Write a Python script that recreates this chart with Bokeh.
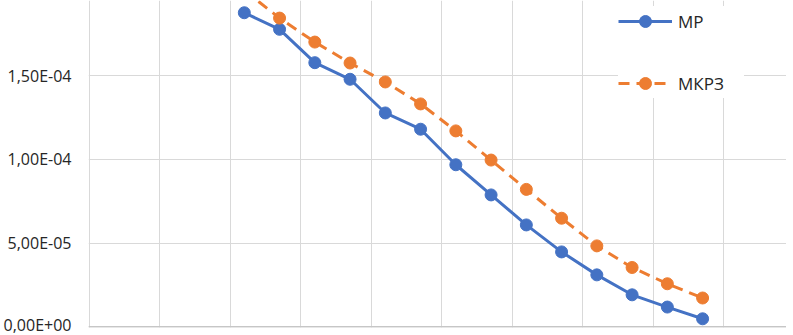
from bokeh.plotting import figure
from bokeh.models import (ColumnDataSource, FixedTicker, CustomJSTickFormatter,
                          Range1d, Legend, LegendItem, Span)
from bokeh.embed import file_html
from bokeh.resources import INLINE

# ---- data ----
x_vals = [2.2, 2.7, 3.2, 3.7, 4.2, 4.7, 5.2, 5.7, 6.2, 6.7, 7.2, 7.7, 8.2, 8.7]
mr = [1.875e-4, 1.776e-4, 1.577e-4, 1.478e-4, 1.277e-4, 1.180e-4, 9.68e-5,
      7.88e-5, 6.09e-5, 4.48e-5, 3.11e-5, 1.92e-5, 1.19e-5, 4.9e-6]
mkr3 = [2.008e-4, 1.843e-4, 1.700e-4, 1.575e-4, 1.462e-4, 1.331e-4, 1.170e-4,
        9.96e-5, 8.21e-5, 6.49e-5, 4.84e-5, 3.55e-5, 2.58e-5, 1.73e-5]
series_names = ["МР", "МКРЗ"]
y_ticks = [0, 5e-5, 1e-4, 1.5e-4, 2e-4]
x_grid = [0, 1, 2, 3, 4, 5, 6, 7, 8, 9, 10]

BLUE = "#4472C4"
ORANGE = "#ED7D31"
FONT = "Open Sans"

src = ColumnDataSource(dict(x=x_vals, mr=mr, mkr3=mkr3))

p = figure(frame_width=698, frame_height=327, output_backend="svg",
           toolbar_location=None,
           x_range=Range1d(-0.01, 9.89), y_range=Range1d(-0.3e-6, 1.948e-4),
           min_border_left=79, min_border_right=0, min_border_top=0,
           min_border_bottom=8)
p.outline_line_color = None
p.background_fill_color = "white"
p.border_fill_color = "white"

# grid
p.xgrid.ticker = FixedTicker(ticks=x_grid)
p.xgrid.grid_line_color = "#d9d9d9"
p.xgrid.grid_line_width = 1
p.ygrid.ticker = FixedTicker(ticks=y_ticks)
p.ygrid.grid_line_color = "#d9d9d9"
p.ygrid.grid_line_width = 1

# axes
p.xaxis.visible = False
yax = p.yaxis[0]
yax.ticker = FixedTicker(ticks=y_ticks)
yax.formatter = CustomJSTickFormatter(code="""
    const s = tick.toExponential(2);
    const parts = s.split('e');
    const sign = parts[1][0];
    const d = parts[1].slice(1).padStart(2, '0');
    return parts[0].replace('.', ',') + 'E' + sign + d;
""")
yax.axis_line_color = None
yax.major_tick_line_color = None
yax.minor_tick_line_color = None
yax.major_label_standoff = 11
yax.major_label_text_font = FONT
yax.major_label_text_font_size = "16px"
yax.major_label_text_color = "#262626"

# horizontal axis line at 0
p.add_layout(Span(location=0, dimension="width", line_color="#bfbfbf", line_width=1.5))

# series
l1 = p.line("x", "mr", source=src, line_color=BLUE, line_width=3)
s1 = p.scatter("x", "mr", source=src, size=12, fill_color=BLUE, line_color=BLUE)
l2 = p.line("x", "mkr3", source=src, line_color=ORANGE, line_width=3, line_dash="11 7")
s2 = p.scatter("x", "mkr3", source=src, size=12, fill_color=ORANGE, line_color=ORANGE)

legend = Legend(items=[LegendItem(label=series_names[0], renderers=[l1, s1]),
                       LegendItem(label=series_names[1], renderers=[l2, s2])],
                location=(530, 229), orientation="vertical",
                border_line_color=None, background_fill_color="white",
                background_fill_alpha=1.0, padding=5, spacing=32,
                glyph_width=54, glyph_height=30, label_height=30,
                label_width=66, label_standoff=6, label_text_font=FONT,
                label_text_font_size="17px", label_text_color="#262626",
                margin=0)
p.add_layout(legend, "center")

open("out.html", "w").write(file_html(p, INLINE))
